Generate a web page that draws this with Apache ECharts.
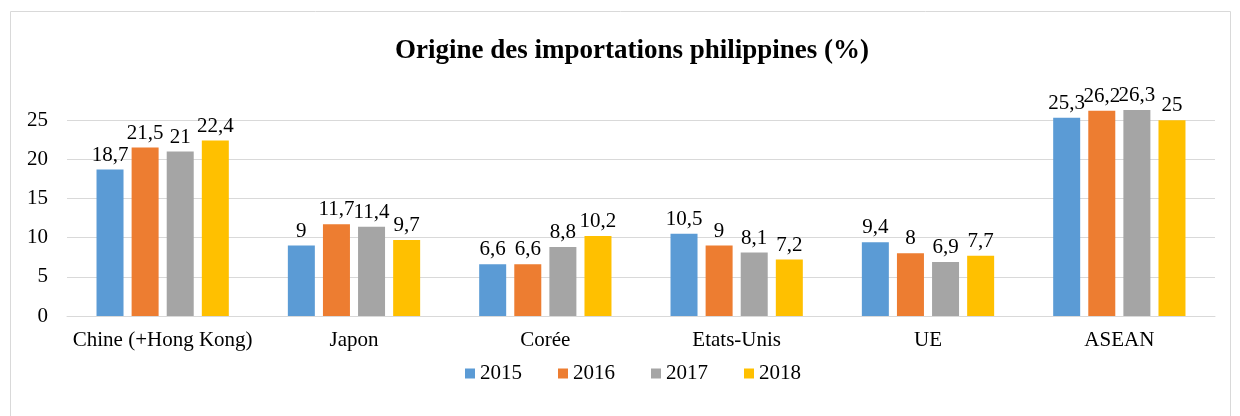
<!DOCTYPE html>
<html>
<head>
<meta charset="utf-8">
<script src="https://cdn.jsdelivr.net/npm/echarts@6/dist/echarts.min.js"></script>
<style>
html, body { margin: 0; padding: 0; background: #fff; }
#chart { width: 1240px; height: 416px; }
</style>
</head>
<body>
<div id="chart"></div>
<script>
"use strict";
var categories = ['Chine (+Hong Kong)', 'Japon', 'Corée', 'Etats-Unis', 'UE', 'ASEAN'];
var years = ['2015', '2016', '2017', '2018'];
var v2015 = [18.7, 9, 6.6, 10.5, 9.4, 25.3];
var v2016 = [21.5, 11.7, 6.6, 9, 8, 26.2];
var v2017 = [21, 11.4, 8.8, 8.1, 6.9, 26.3];
var v2018 = [22.4, 9.7, 10.2, 7.2, 7.7, 25];
var colors = ['#5B9BD5', '#ED7D31', '#A5A5A5', '#FFC000'];

var font = '"Liberation Serif", "Times New Roman", serif';

function makeSeries(name, data, color) {
    return {
        name: name,
        type: 'bar',
        data: data,
        barWidth: 27,
        barGap: '30%',
        itemStyle: { color: color },
        label: {
            show: true,
            position: 'top',
            distance: 4,
            color: '#000',
            fontFamily: font,
            fontSize: 21,
            formatter: function (p) { return String(p.value).replace('.', ','); }
        }
    };
}

var myChart = echarts.init(document.getElementById('chart'));
myChart.setOption({
    animation: false,
    textStyle: { fontFamily: font },
    title: {
        text: 'Origine des importations philippines (%)',
        left: 627,
        textAlign: 'center',
        top: 33,
        textStyle: { fontFamily: font, fontSize: 27, fontWeight: 'bold', color: '#000' }
    },
    graphic: [{
        type: 'rect',
        shape: { x: 10.5, y: 11.5, width: 1220, height: 420 },
        style: { fill: 'none', stroke: '#d9d9d9', lineWidth: 1 },
        silent: true
    }],
    legend: {
        data: years,
        left: 460,
        top: 358,
        itemWidth: 10,
        itemHeight: 10,
        itemGap: 36,
        icon: 'rect',
        textStyle: { fontFamily: font, fontSize: 21, color: '#000' }
    },
    grid: { left: 67, right: 25, top: 81, bottom: 100 },
    xAxis: {
        type: 'category',
        data: categories,
        axisLine: { lineStyle: { color: '#d9d9d9', width: 1 } },
        axisTick: { show: false },
        axisLabel: { color: '#000', fontFamily: font, fontSize: 21, margin: 14, interval: 0 }
    },
    yAxis: {
        type: 'value',
        min: 0,
        max: 30,
        interval: 5,
        axisLine: { show: false },
        axisTick: { show: false },
        axisLabel: {
            color: '#000', fontFamily: font, fontSize: 21, margin: 19,
            formatter: function (v) { return v === 30 ? '' : v; }
        },
        splitLine: {
            lineStyle: {
                color: ['#d9d9d9', '#d9d9d9', '#d9d9d9', '#d9d9d9', '#d9d9d9', '#d9d9d9', 'rgba(0,0,0,0)'],
                width: 1
            }
        }
    },
    series: [
        makeSeries(years[0], v2015, colors[0]),
        makeSeries(years[1], v2016, colors[1]),
        makeSeries(years[2], v2017, colors[2]),
        makeSeries(years[3], v2018, colors[3])
    ]
});
</script>
</body>
</html>
